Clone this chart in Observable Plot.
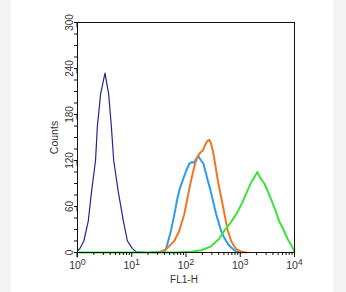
<!DOCTYPE html>
<html><head><meta charset="utf-8">
<script src="https://cdn.jsdelivr.net/npm/d3@7"></script>
<script src="https://cdn.jsdelivr.net/npm/@observablehq/plot@0.6"></script>
<style>
html,body{margin:0;padding:0;background:#f3f3f3;width:346px;height:292px;overflow:hidden;}
#panel{position:absolute;left:11px;top:0;width:322px;height:292px;background:#fff;}
#chart{position:absolute;left:0;top:0;}
</style></head><body>
<div id="panel"></div>
<div id="chart"></div>
<script>
// FL1-H values and counts
const navyX = [1, 1.10, 1.31, 1.58, 1.82, 2.15, 2.32, 2.67, 3.21, 3.75, 4.21, 4.65, 5.62, 7.01, 8.32, 10.3, 12.0, 20, 100, 1000, 10000];
const navyY = [2, 5, 15, 41, 80, 120, 164, 207, 234, 207, 164, 120, 80, 41, 15, 5, 1, 0, 0, 0, 0];

const lightX = [22.5, 34.4, 42.6, 52.7, 61.2, 70.2, 77.4, 86.9, 100, 115, 129, 141, 153, 170, 190, 209, 230, 252, 278, 303, 330, 360, 400, 445, 494, 551, 625, 732, 843, 1045];
const lightY = [0, 1, 4, 28, 50, 72, 84, 94, 106, 116, 118, 117, 122, 125, 120, 116, 105, 94, 83, 72, 61, 50, 39, 28, 21, 15, 9, 4.5, 1, 0];

const orangeX = [27.8, 39.6, 48.4, 60.7, 75.2, 84.3, 93.0, 100, 107, 115, 124, 135, 147, 163, 182, 204, 225, 245, 270, 290, 312, 344, 386, 445, 512, 592, 639, 681, 758, 843, 1045, 1291];
const orangeY = [0, 2, 8, 15, 28, 40, 50, 61, 72, 83, 94, 105, 116, 125, 130, 133, 140, 145, 147, 142, 133, 116, 94, 72, 50, 28, 21, 15, 9, 4.5, 1, 0];

const greenX = [1, 10, 65.3, 124, 190, 290, 408, 528, 681, 880, 1089, 1349, 1600, 1816, 2064, 2344, 2782, 3303, 3917, 4450, 5275, 6256, 7420, 8795, 10000];
const greenY = [0, 0, 0, 1, 3, 8, 18, 30, 40, 52, 65, 80, 92, 98, 105, 97, 90, 78, 65, 55, 40, 30, 18, 9, 1];

const yTicks = [0, 60, 120, 180, 240, 300];
const yMinor = d3.range(0, 301, 15);
const xTicks = [1, 10, 100, 1000, 10000];
const xMinor = [];
for (const dec of [1, 10, 100, 1000]) for (let k = 2; k <= 9; k++) xMinor.push(dec * k);

const series = [
  {name: "control", xs: navyX, ys: navyY, color: "#24249a", width: 1.2},
  {name: "sample1", xs: lightX, ys: lightY, color: "#2c9cf0", width: 2},
  {name: "sample2", xs: orangeX, ys: orangeY, color: "#f07524", width: 2},
  {name: "sample3", xs: greenX, ys: greenY, color: "#3ce23c", width: 2}
];
const lineMarks = series.map(s =>
  Plot.line(s.xs.map((x, i) => ({x, y: s.ys[i]})), {x: "x", y: "y", stroke: s.color, strokeWidth: s.width, curve: "linear"})
);

const plot = Plot.plot({
  width: 346, height: 292,
  marginLeft: 77, marginRight: 52, marginTop: 22, marginBottom: 40,
  style: {background: "transparent", fontFamily: "'Liberation Sans', Arial, sans-serif", fontSize: "10px", color: "#333"},
  x: {type: "log", domain: [1, 10000]},
  y: {domain: [0, 300]},
  marks: [
    ...lineMarks,
    Plot.frame({stroke: "#111"}),
    Plot.axisY({ticks: yMinor, tickSize: 3, tickFormat: () => "", label: null, stroke: "#111"}),
    Plot.axisY({ticks: yTicks, tickSize: 5, tickPadding: 0, rotate: -90, textAnchor: "middle", lineAnchor: "bottom", label: null, stroke: "#111", fill: "#333", fontSize: 10}),
    Plot.axisX({ticks: xMinor, tickSize: 3, tickFormat: () => "", label: null, stroke: "#111"}),
    Plot.axisX({ticks: xTicks, tickSize: 5, tickPadding: 4, tickFormat: d => String(Math.round(Math.log10(d))), label: null, stroke: "#111", fill: "#333", fontSize: 10.5}),
    Plot.text(["Counts"], {frameAnchor: "left", rotate: -90, dx: -20, lineAnchor: "bottom", textAnchor: "middle", fill: "#333", fontSize: 10.5}),
    Plot.text(["FL1-H"], {frameAnchor: "bottom", dy: 30, dx: -2, lineAnchor: "bottom", textAnchor: "middle", fill: "#333", fontSize: 10})
  ]
});
document.getElementById("chart").appendChild(plot);

// render exponents as superscripts
d3.select(plot).selectAll('g[aria-label="x-axis tick label"] text').each(function() {
  const t = d3.select(this);
  const k = t.text();
  if (!k) return;
  t.text(null);
  t.append("tspan").text("10");
  t.append("tspan").attr("dy", "-0.45em").attr("font-size", "0.85em").text(k);
});
</script>
</body></html>
